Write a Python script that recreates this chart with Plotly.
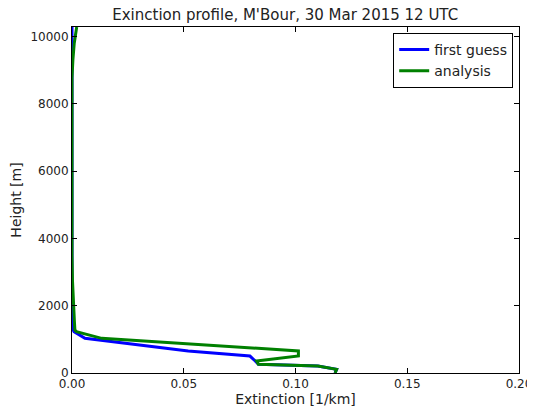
import plotly.graph_objects as go

# heights of the profile levels [m]
height = [0, 110, 208, 258, 356, 504, 655, 1030, 1230, 1276, 1500, 1780, 2200, 2760,
          3500, 5000, 6500, 8000, 8780, 9300, 9800, 10280]
# extinction [1/km]
first_guess = [0.1177, 0.1184, 0.1100, 0.0834, 0.0820, 0.0796, 0.0520, 0.0058, 0.0009, 0.0005,
               0.0003, 0.0002, 0.0001, 0.0, 0.0, 0.0, 0.0, 0.0, 0.0, 0.0, 0.0, 0.0]
analysis = [0.1177, 0.1184, 0.1100, 0.0834, 0.0826, 0.1013, 0.1013, 0.0133, 0.0020, 0.0013,
            0.0011, 0.0009, 0.0007, 0.0002, 0.0, 0.0, 0.0, 0.0, 0.0, 0.0004, 0.0010, 0.0021]
y_ticks = [0, 2000, 4000, 6000, 8000, 10000]
x_ticks = [0, 0.05, 0.1, 0.15, 0.2]

fig = go.Figure()
fig.add_trace(go.Scatter(x=first_guess, y=height, mode='lines', name='first guess',
                         line=dict(color='#0000ff', width=3)))
fig.add_trace(go.Scatter(x=analysis, y=height, mode='lines', name='analysis',
                         line=dict(color='#008000', width=3)))

axis_style = dict(showgrid=False, zeroline=False, showline=True, linecolor='black', linewidth=1,
                  mirror='ticks', ticks='inside', ticklen=5, tickcolor='black', automargin=False,
                  tickfont=dict(size=12, color='#222'))
fig.update_xaxes(range=[0, 0.2], tickvals=x_ticks, ticktext=['%.2f' % v for v in x_ticks],
                 title=dict(text='Extinction [1/km]', font=dict(size=14, color='#222'), standoff=2),
                 **axis_style)
fig.update_yaxes(range=[0, 10280], tickvals=y_ticks, ticktext=[str(v) for v in y_ticks],
                 title=dict(text='Height [m]', font=dict(size=14, color='#222'), standoff=6),
                 **axis_style)

# the page adds an 8px body margin, so the figure is a bit smaller than the window
fig.update_layout(
    width=527, height=403,
    margin=dict(l=64, r=16, t=19, b=38),
    plot_bgcolor='white', paper_bgcolor='white',
    font=dict(family='DejaVu Sans', color='#222'),
    title=dict(text="Exinction profile, M'Bour, 30 Mar 2015 12 UTC", x=0.526, xanchor='center',
               y=0.983, yanchor='middle', font=dict(size=15, color='#222')),
    legend=dict(x=0.987, y=0.983, xanchor='right', yanchor='top', bgcolor='white',
                bordercolor='black', borderwidth=1, font=dict(size=14)),
)

fig.write_html("out.html")
